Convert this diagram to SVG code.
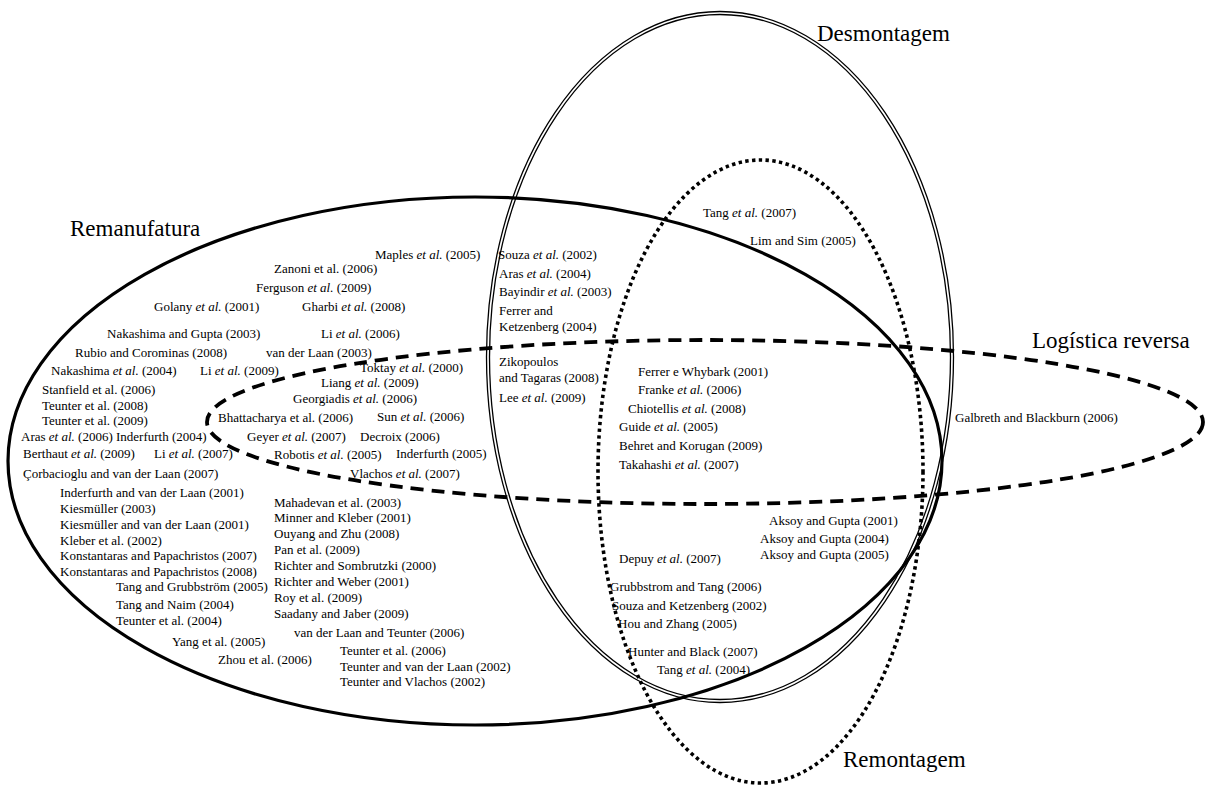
<svg xmlns="http://www.w3.org/2000/svg" width="1207" height="785" viewBox="0 0 1207 785">
<style>
text{font-family:"Liberation Serif","Times New Roman",serif;font-size:13px;fill:#000}
.lbl{font-size:23px}
.i{font-style:italic}
.set{fill:none;stroke:#000}
.solid{stroke-width:3.2}
.dbl{stroke-width:1.3}
.dash{stroke-width:3.8;stroke-dasharray:13 8}
.dot{stroke-width:3.6;stroke-dasharray:3.4 3.4}
</style>
<rect width="1207" height="785" fill="#fff"/>
<g id="sets">
  <g id="remanufatura">
    <ellipse class="set solid" cx="475" cy="461" rx="467" ry="264"/>
  </g>
  <g id="desmontagem">
    <ellipse class="set dbl" cx="720" cy="357" rx="230.5" ry="342.5"/>
    <ellipse class="set dbl" cx="720" cy="357" rx="233.5" ry="345.5"/>
  </g>
  <g id="remontagem">
    <ellipse class="set dot" cx="760.5" cy="471.5" rx="162.5" ry="311.5"/>
  </g>
  <g id="logistica">
    <ellipse class="set dash" cx="705" cy="422" rx="498" ry="82"/>
  </g>
</g>
<g id="labels">
  <text class="lbl" x="70" y="236">Remanufatura</text>
  <text class="lbl" x="817" y="41">Desmontagem</text>
  <text class="lbl" x="1032" y="348">Logística reversa</text>
  <text class="lbl" x="843" y="767">Remontagem</text>
</g>
<g id="rem-only">
  <text x="375" y="259">Maples <tspan class="i">et al.</tspan> (2005)</text>
  <text x="274" y="273">Zanoni et al. (2006)</text>
  <text x="256" y="292">Ferguson <tspan class="i">et al.</tspan> (2009)</text>
  <text x="154" y="311">Golany <tspan class="i">et al.</tspan> (2001)</text>
  <text x="302" y="311">Gharbi <tspan class="i">et al.</tspan> (2008)</text>
  <text x="107" y="338">Nakashima and Gupta (2003)</text>
  <text x="321" y="338">Li <tspan class="i">et al.</tspan> (2006)</text>
  <text x="75" y="357">Rubio and Corominas (2008)</text>
  <text x="266" y="357">van der Laan (2003)</text>
  <text x="51" y="375">Nakashima <tspan class="i">et al.</tspan> (2004)</text>
  <text x="200" y="375">Li <tspan class="i">et al.</tspan> (2009)</text>
  <text x="42" y="394">Stanfield et al. (2006)</text>
  <text x="42" y="410">Teunter et al. (2008)</text>
  <text x="42" y="425">Teunter et al. (2009)</text>
  <text x="21" y="441">Aras <tspan class="i">et al.</tspan> (2006) Inderfurth (2004)</text>
  <text x="23" y="458">Berthaut <tspan class="i">et al.</tspan> (2009)</text>
  <text x="154" y="458">Li <tspan class="i">et al.</tspan> (2007)</text>
  <text x="23" y="478">Çorbacioglu and van der Laan (2007)</text>
  <text x="60" y="497">Inderfurth and van der Laan (2001)</text>
  <text x="60" y="513">Kiesmüller (2003)</text>
  <text x="60" y="529">Kiesmüller and van der Laan (2001)</text>
  <text x="60" y="545">Kleber et al. (2002)</text>
  <text x="60" y="560">Konstantaras and Papachristos (2007)</text>
  <text x="60" y="576">Konstantaras and Papachristos (2008)</text>
  <text x="116" y="591">Tang and Grubbström (2005)</text>
  <text x="116" y="609">Tang and Naim (2004)</text>
  <text x="116" y="625">Teunter et al. (2004)</text>
  <text x="172" y="646">Yang et al. (2005)</text>
  <text x="218" y="664">Zhou et al. (2006)</text>
  <text x="274" y="507">Mahadevan et al. (2003)</text>
  <text x="274" y="522">Minner and Kleber (2001)</text>
  <text x="274" y="538">Ouyang and Zhu (2008)</text>
  <text x="274" y="554">Pan et al. (2009)</text>
  <text x="274" y="570">Richter and Sombrutzki (2000)</text>
  <text x="274" y="586">Richter and Weber (2001)</text>
  <text x="274" y="602">Roy et al. (2009)</text>
  <text x="274" y="618">Saadany and Jaber (2009)</text>
  <text x="294" y="637">van der Laan and Teunter (2006)</text>
  <text x="340" y="655">Teunter et al. (2006)</text>
  <text x="340" y="671">Teunter and van der Laan (2002)</text>
  <text x="340" y="686">Teunter and Vlachos (2002)</text>
</g>
<g id="rem-log">
  <text x="360" y="372">Toktay <tspan class="i">et al.</tspan> (2000)</text>
  <text x="321" y="387">Liang <tspan class="i">et al.</tspan> (2009)</text>
  <text x="293" y="403">Georgiadis <tspan class="i">et al.</tspan> (2006)</text>
  <text x="218" y="422">Bhattacharya et al. (2006)</text>
  <text x="377" y="421">Sun <tspan class="i">et al.</tspan> (2006)</text>
  <text x="247" y="441">Geyer <tspan class="i">et al.</tspan> (2007)</text>
  <text x="360" y="441">Decroix (2006)</text>
  <text x="274" y="459">Robotis <tspan class="i">et al.</tspan> (2005)</text>
  <text x="396" y="458">Inderfurth (2005)</text>
  <text x="350" y="478">Vlachos <tspan class="i">et al.</tspan> (2007)</text>
</g>
<g id="rem-desm">
  <text x="498" y="259">Souza <tspan class="i">et al.</tspan> (2002)</text>
  <text x="499" y="278">Aras <tspan class="i">et al.</tspan> (2004)</text>
  <text x="499" y="296">Bayindir <tspan class="i">et al.</tspan> (2003)</text>
  <text x="499" y="315">Ferrer and</text>
  <text x="499" y="331">Ketzenberg (2004)</text>
  <text x="499" y="366">Zikopoulos</text>
  <text x="499" y="382">and Tagaras (2008)</text>
  <text x="499" y="402">Lee <tspan class="i">et al.</tspan> (2009)</text>
</g>
<g id="desm-remon">
  <text x="703" y="217">Tang <tspan class="i">et al.</tspan> (2007)</text>
  <text x="750" y="245">Lim and Sim (2005)</text>
</g>
<g id="all-four">
  <text x="638" y="376">Ferrer e Whybark (2001)</text>
  <text x="638" y="394">Franke <tspan class="i">et al.</tspan> (2006)</text>
  <text x="628" y="413">Chiotellis <tspan class="i">et al.</tspan> (2008)</text>
  <text x="619" y="431">Guide <tspan class="i">et al.</tspan> (2005)</text>
  <text x="619" y="450">Behret and Korugan (2009)</text>
  <text x="619" y="469">Takahashi <tspan class="i">et al.</tspan> (2007)</text>
</g>
<g id="lower">
  <text x="769" y="525">Aksoy and Gupta (2001)</text>
  <text x="760" y="543">Aksoy and Gupta (2004)</text>
  <text x="760" y="559">Aksoy and Gupta (2005)</text>
  <text x="619" y="563">Depuy <tspan class="i">et al.</tspan> (2007)</text>
  <text x="610" y="591">Grubbstrom and Tang (2006)</text>
  <text x="612" y="610">Souza and Ketzenberg (2002)</text>
  <text x="618" y="628">Hou and Zhang (2005)</text>
  <text x="628" y="656">Hunter and Black (2007)</text>
  <text x="657" y="674">Tang <tspan class="i">et al.</tspan> (2004)</text>
</g>
<g id="logistica-only">
  <text x="955" y="422">Galbreth and Blackburn (2006)</text>
</g>
</svg>
